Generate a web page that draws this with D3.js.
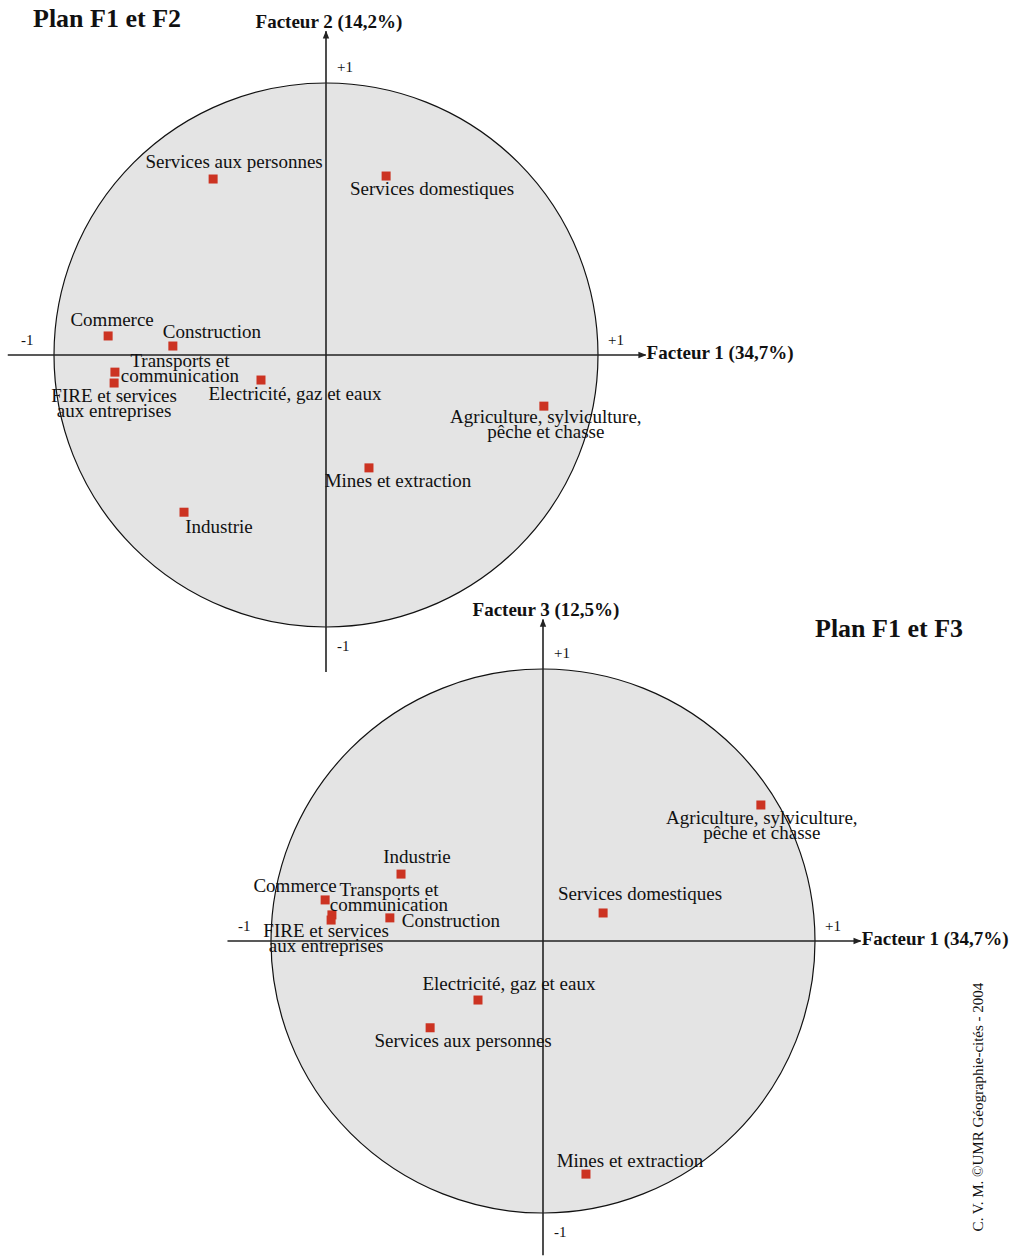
<!DOCTYPE html>
<html>
  <head>
    <meta charset="utf-8">
    <style type="text/css">
      body { margin: 0; background: #fff; }
      svg text { font-family: "Liberation Serif", "Times New Roman", serif; fill: #111; }
    </style>
    <title>Plans factoriels F1-F2 et F1-F3</title>
  </head>
  <body>
    <script src="https://cdn.jsdelivr.net/npm/d3@7/dist/d3.min.js"></script>
    <script>

/*========== Data ==========*/
const sectors = ['Services aux personnes', 'Services domestiques', 'Commerce', 'Construction',
  'Transports et communication', 'FIRE et services aux entreprises', 'Electricité, gaz et eaux',
  'Agriculture, sylviculture, pêche et chasse', 'Mines et extraction', 'Industrie'];
const f1 = [-0.415, 0.221, -0.801, -0.563, -0.776, -0.779, -0.239, 0.801, 0.158, -0.522];
const f2 = [0.647, 0.658, 0.070, 0.033, -0.063, -0.103, -0.092, -0.188, -0.415, -0.578];
const f3 = [-0.319, 0.103, 0.151, 0.085, 0.096, 0.077, -0.217, 0.500, -0.857, 0.246];
const factorLabels = ['Facteur 1 (34,7%)', 'Facteur 2 (14,2%)', 'Facteur 3 (12,5%)'];
const tickLabels = ['-1', '+1'];

// label lines (split as in the original)
const labelLines = {
  'Transports et communication': ['Transports et', 'communication'],
  'FIRE et services aux entreprises': ['FIRE et services', 'aux entreprises'],
  'Agriculture, sylviculture, pêche et chasse': ['Agriculture, sylviculture,', 'pêche et chasse']
};

/*========== Layout ==========*/
const W = 1009, H = 1257;
const R = 272;
const markSize = 9;
const lineH = 15;

// label offsets (dx, dy of first baseline) relative to the point, per plan
const offsetsTop = {
  'Services aux personnes': [21, -11],
  'Services domestiques': [46, 19],
  'Commerce': [4, -10],
  'Construction': [39, -8],
  'Transports et communication': [65, -5],
  'FIRE et services aux entreprises': [0, 19],
  'Electricité, gaz et eaux': [34, 20],
  'Agriculture, sylviculture, pêche et chasse': [2, 17],
  'Mines et extraction': [29, 19],
  'Industrie': [35, 21]
};
const offsetsBottom = {
  'Services aux personnes': [33, 19],
  'Services domestiques': [37, -13],
  'Commerce': [-30, -8],
  'Construction': [61, 9],
  'Transports et communication': [57, -19],
  'FIRE et services aux entreprises': [-5, 17],
  'Electricité, gaz et eaux': [31, -10],
  'Agriculture, sylviculture, pêche et chasse': [1, 19],
  'Mines et extraction': [44, -7],
  'Industrie': [16, -11]
};

const plans = [
  { title: 'Plan F1 et F2', titleX: 33, titleY: 27, cx: 326, cy: 355, ys: f2, yLabel: factorLabels[1],
    offsets: offsetsTop, ext: [-1.17, 1.175, -1.165, 1.19] },
  { title: 'Plan F1 et F3', titleX: 815, titleY: 637, cx: 543, cy: 941, ys: f3, yLabel: factorLabels[2],
    offsets: offsetsBottom, ext: [-1.16, 1.168, -1.155, 1.182] }
];

const svg = d3.select('body').append('svg')
    .attr('width', W)
    .attr('height', H);

const defs = svg.append('defs');
defs.append('marker')
    .attr('id', 'arrow')
    .attr('viewBox', '0 0 10 10')
    .attr('refX', 9).attr('refY', 5)
    .attr('markerWidth', 5).attr('markerHeight', 5)
    .attr('orient', 'auto')
  .append('path')
    .attr('d', 'M0,1 L10,5 L0,9 z')
    .attr('fill', '#222');

/*========== Draw each plan ==========*/
plans.forEach(function(p) {
  const x = d3.scaleLinear().domain([-1, 1]).range([p.cx - R, p.cx + R]);
  const y = d3.scaleLinear().domain([-1, 1]).range([p.cy + R, p.cy - R]);
  const g = svg.append('g');

  // circle of correlations
  g.append('circle')
      .attr('cx', x(0)).attr('cy', y(0))
      .attr('r', x(1) - x(0))
      .attr('fill', '#e4e4e4')
      .attr('stroke', '#111')
      .attr('stroke-width', 1.2);

  // axes
  g.append('line')
      .attr('x1', x(p.ext[0])).attr('x2', x(p.ext[1]))
      .attr('y1', y(0)).attr('y2', y(0))
      .attr('stroke', '#222').attr('stroke-width', 1.6)
      .attr('marker-end', 'url(#arrow)');
  g.append('line')
      .attr('x1', x(0)).attr('x2', x(0))
      .attr('y1', y(p.ext[2])).attr('y2', y(p.ext[3]))
      .attr('stroke', '#222').attr('stroke-width', 1.6)
      .attr('marker-end', 'url(#arrow)');

  // axis titles
  g.append('text')
      .attr('x', x(p.ext[1]) + 1).attr('y', y(0) + 4)
      .attr('font-size', 19).attr('font-weight', 'bold')
      .text(factorLabels[0]);
  g.append('text')
      .attr('x', x(0) + 3).attr('y', y(p.ext[3]) - 3)
      .attr('text-anchor', 'middle')
      .attr('font-size', 19).attr('font-weight', 'bold')
      .text(p.yLabel);

  // ticks -1 / +1
  g.append('text').attr('x', x(-1) - 33).attr('y', y(0) - 10)
      .attr('font-size', 15).text(tickLabels[0]);
  g.append('text').attr('x', x(1) + 10).attr('y', y(0) - 10)
      .attr('font-size', 15).text(tickLabels[1]);
  g.append('text').attr('x', x(0) + 11).attr('y', y(1) - 11)
      .attr('font-size', 15).text(tickLabels[1]);
  g.append('text').attr('x', x(0) + 11).attr('y', y(-1) + 24)
      .attr('font-size', 15).text(tickLabels[0]);

  // title
  svg.append('text')
      .attr('x', p.titleX).attr('y', p.titleY)
      .attr('font-size', 26).attr('font-weight', 'bold')
      .text(p.title);

  // points
  const pts = sectors.map(function(s, i) { return { name: s, fx: f1[i], fy: p.ys[i] }; });

  g.selectAll('rect.pt')
    .data(pts)
    .enter().append('rect')
      .attr('class', 'pt')
      .attr('x', d => x(d.fx) - markSize / 2)
      .attr('y', d => y(d.fy) - markSize / 2)
      .attr('width', markSize).attr('height', markSize)
      .attr('fill', '#cc3322');

  const labels = g.selectAll('text.lab')
    .data(pts)
    .enter().append('text')
      .attr('class', 'lab')
      .attr('font-size', 19)
      .attr('text-anchor', 'middle')
      .attr('x', d => x(d.fx) + p.offsets[d.name][0])
      .attr('y', d => y(d.fy) + p.offsets[d.name][1]);

  labels.each(function(d) {
    const lines = labelLines[d.name] || [d.name];
    const t = d3.select(this);
    lines.forEach(function(l, k) {
      t.append('tspan')
          .attr('x', x(d.fx) + p.offsets[d.name][0])
          .attr('dy', k === 0 ? 0 : lineH)
          .text(l);
    });
  });
});

// credit
svg.append('text')
    .attr('transform', 'translate(983,1107) rotate(-90)')
    .attr('text-anchor', 'middle')
    .attr('font-size', 15)
    .text('C. V. M. ©UMR Géographie-cités - 2004');

    </script>
  </body>
</html>
